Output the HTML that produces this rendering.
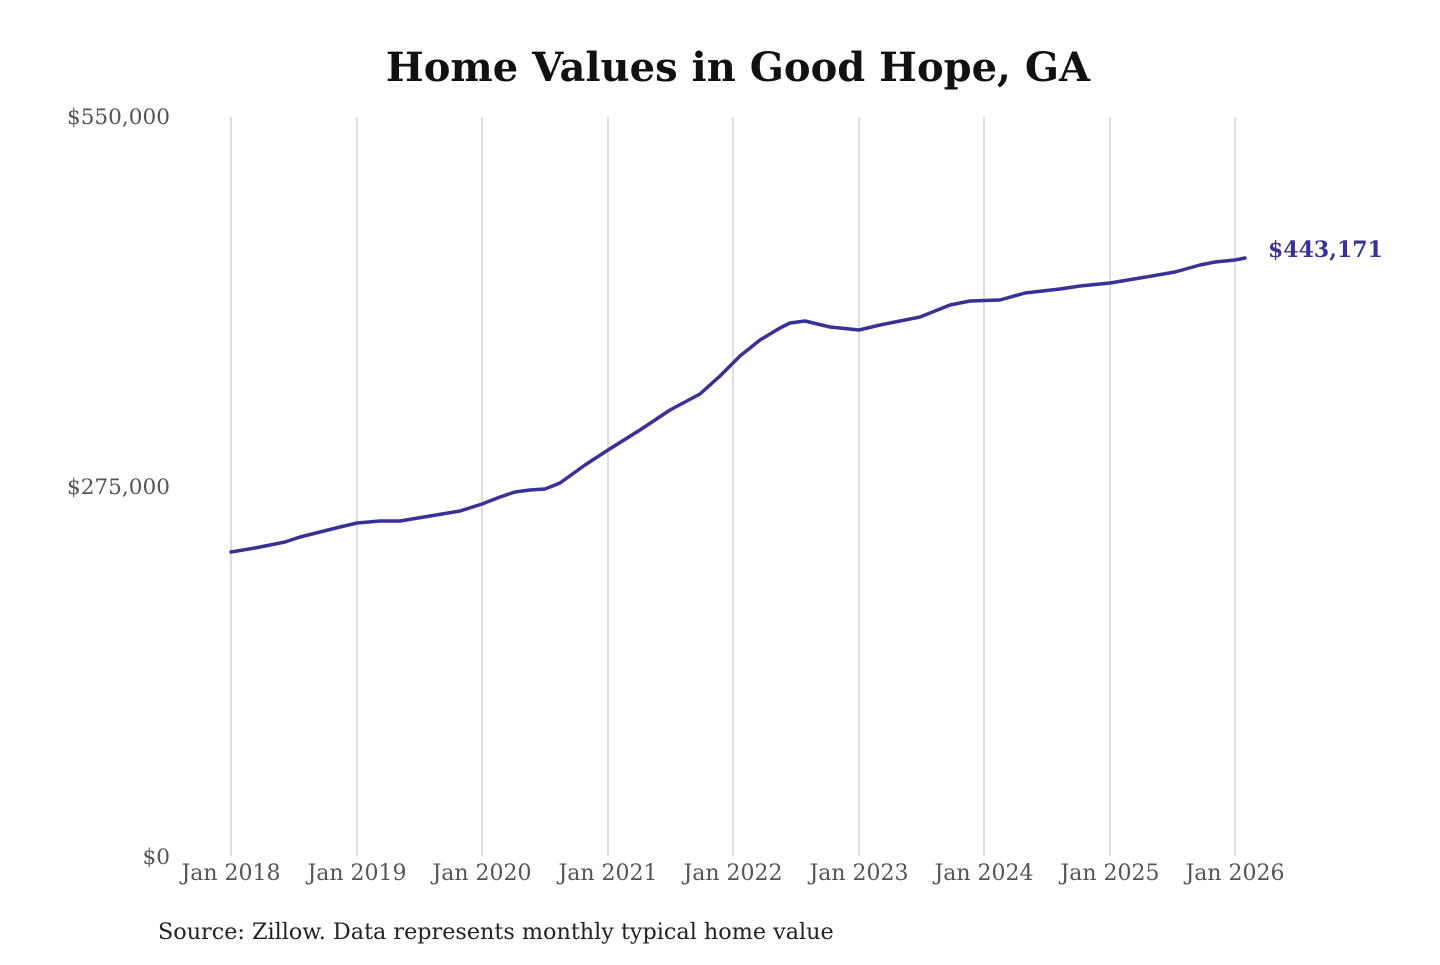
<!DOCTYPE html>
<html><head><meta charset="utf-8"><style>
html,body{margin:0;padding:0;background:#fff;}
</style></head><body>
<svg width="1440" height="960" xmlns="http://www.w3.org/2000/svg" font-family="'DejaVu Serif','Liberation Serif',serif">
<rect width="1440" height="960" fill="#fff"/>
<text x="738" y="81" text-anchor="middle" font-size="40" font-weight="bold" fill="#111">Home Values in Good Hope, GA</text>
<g stroke="#c8c8c8" stroke-width="1.2">
<line x1="231" y1="117" x2="231" y2="856"/>
<line x1="357" y1="117" x2="357" y2="856"/>
<line x1="482" y1="117" x2="482" y2="856"/>
<line x1="608" y1="117" x2="608" y2="856"/>
<line x1="733" y1="117" x2="733" y2="856"/>
<line x1="859" y1="117" x2="859" y2="856"/>
<line x1="984" y1="117" x2="984" y2="856"/>
<line x1="1110" y1="117" x2="1110" y2="856"/>
<line x1="1235" y1="117" x2="1235" y2="856"/>
</g>
<g font-size="21.6" fill="#555" text-anchor="end">
<text x="170" y="124">$550,000</text>
<text x="170" y="494">$275,000</text>
<text x="170" y="864">$0</text>
</g>
<g font-size="22" fill="#555" text-anchor="middle">
<text x="231" y="880">Jan 2018</text>
<text x="357" y="880">Jan 2019</text>
<text x="482" y="880">Jan 2020</text>
<text x="608" y="880">Jan 2021</text>
<text x="733" y="880">Jan 2022</text>
<text x="859" y="880">Jan 2023</text>
<text x="984" y="880">Jan 2024</text>
<text x="1110" y="880">Jan 2025</text>
<text x="1235" y="880">Jan 2026</text>
</g>
<polyline fill="none" stroke="#3a3196" stroke-width="3.5" stroke-linejoin="round" stroke-linecap="round"
points="231,552 255,548 285,542 300,537 320,532 340,527 357,523 380,521 400,521 430,516 460,511 482,504 500,497 515,492 530,490 545,489 560,483 585,465 608,450 640,430 670,410 700,394 720,376 740,356 760,340 780,328 790,323 805,321 830,327 859,330 880,325 920,317 950,305 970,301 1000,300 1025,293 1060,289 1080,286 1110,283 1140,278 1175,272 1200,265 1215,262 1235,260 1245,258"/>
<text x="1268" y="257" font-size="22" font-weight="bold" fill="#3a3196">$443,171</text>
<text x="158" y="939" font-size="22.3" fill="#222">Source: Zillow. Data represents monthly typical home value</text>
</svg>
</body></html>
